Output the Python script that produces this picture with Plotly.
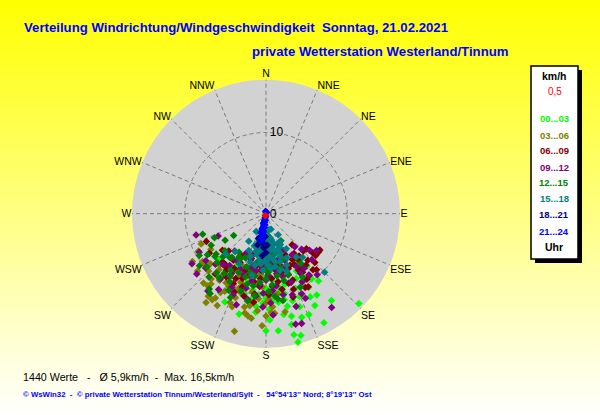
import plotly.graph_objects as go

# ---------------- data ----------------
compass_labels = ["N", "NNE", "NE", "ENE", "E", "ESE", "SE", "SSE",
                  "S", "SSW", "SW", "WSW", "W", "WNW", "NW", "NNW"]
compass_angles = [0, 22.5, 45, 67.5, 90, 112.5, 135, 157.5,
                  180, 202.5, 225, 247.5, 270, 292.5, 315, 337.5]
radial_ticks = [0, 10]
radial_max = 16.5

hour_labels = ["00...03", "03...06", "06...09", "09...12",
               "12...15", "15...18", "18...21", "21...24"]
hour_colors = ["#00ff00", "#808000", "#800000", "#800080",
               "#008000", "#008080", "#000080", "#0000ff"]

dir_00_03 = [195, 186, 180, 178, 174, 166, 167, 167, 164, 166, 161, 157, 152, 152, 152, 143, 134, 167, 167, 159,
             226, 175, 170, 165, 160, 155, 180, 185, 172, 178, 190, 195, 168, 158, 150, 162, 145, 183, 176, 188,
             200, 170, 205, 210, 142, 148, 180, 160,
             165, 170, 175, 180, 160, 155, 150, 185, 190, 172, 178, 168, 163, 158, 182, 148, 195, 152, 174, 186,
             166, 142, 188, 170, 176]
spd_00_03 = [12.8, 12.2, 14.4, 13.1, 14.5, 13.0, 14.0, 15.3, 15.6, 16.3, 13.5, 13.5, 11.6, 12.8, 15.2, 13.4, 15.9, 10.1, 11.7, 9.9,
             8.2, 7.0, 8.5, 9.0, 7.8, 8.8, 9.2, 10.0, 11.0, 11.8, 10.8, 8.8, 6.0, 11.0, 10.5, 5.2, 9.8, 7.8, 9.9, 7.2,
             9.8, 12.6, 12.0, 7.5, 8.2, 11.8, 6.2, 12.2,
             7.2, 9.8, 8.2, 10.4, 9.0, 10.0, 9.2, 8.5, 9.5, 6.8, 7.5, 10.8, 11.2, 7.0, 11.0, 7.0, 10.2, 8.0, 5.8, 11.5,
             7.8, 10.5, 8.8, 9.2, 10.8]

dir_03_06 = [241, 233, 219, 208, 195, 182, 177, 175, 169, 193, 211, 237, 237, 222, 215, 190, 207, 200, 195, 210,
             220, 225, 205, 190, 185, 200, 215, 228, 185, 195, 210, 180, 172, 200, 188, 245, 230, 198, 183, 203,
             218, 192,
             205, 210, 215, 200, 195, 190, 220, 225, 185, 180, 198, 208, 218, 188, 178, 212, 202, 192, 230, 196,
             186, 206, 222, 176, 214]
spd_03_06 = [9.5, 9.8, 11.4, 12.8, 15.0, 13.8, 12.2, 12.3, 12.3, 11.8, 12.1, 10.8, 8.1, 11.5, 12.4, 12.8, 10.1, 9.0, 8.0, 8.2,
             9.0, 7.5, 7.0, 9.8, 10.5, 11.0, 10.0, 9.2, 7.5, 6.8, 11.2, 11.0, 10.0, 12.2, 13.0, 8.8, 11.0, 10.2, 9.0, 8.2,
             8.0, 7.2,
             10.5, 9.8, 9.2, 9.8, 10.5, 11.5, 10.5, 10.0, 12.0, 12.6, 9.2, 10.8, 11.0, 11.0, 10.5, 12.5, 11.8, 12.5, 9.8, 7.5,
             8.5, 7.8, 8.5, 11.5, 13.2]

dir_06_09 = [245, 131, 126, 138, 145, 150, 152, 152, 160, 151, 142, 145, 220, 202, 217, 230, 210, 200, 190, 185,
             175, 170, 165, 160, 155, 148, 140, 195, 205, 215, 225, 182, 168, 178, 188, 198, 135, 158, 173, 212,
             222, 162, 185, 130, 124, 235, 195, 150,
             140, 145, 150, 155, 160, 135, 130, 142, 148, 165, 170, 175, 180, 185, 190, 195, 200, 205, 210, 215,
             220, 188, 172, 158, 146, 138, 198, 208, 178, 162]
spd_06_09 = [8.1, 6.6, 8.0, 7.7, 9.3, 10.4, 9.5, 10.3, 9.9, 7.2, 6.6, 6.0, 9.7, 10.4, 8.2, 7.0, 6.0, 7.5, 8.5, 9.0,
             8.0, 7.0, 6.5, 8.0, 5.5, 8.5, 9.0, 6.5, 8.8, 7.0, 6.5, 6.0, 9.5, 10.0, 11.0, 9.5, 8.5, 7.3, 5.5, 9.2,
             8.0, 10.8, 7.0, 8.0, 8.0, 8.5, 10.5, 6.5,
             5.0, 7.0, 8.0, 7.0, 6.0, 6.5, 7.5, 8.0, 9.5, 7.5, 8.5, 9.0, 7.0, 8.0, 6.5, 7.8, 8.5, 9.5, 7.8, 8.5,
             8.0, 10.0, 6.2, 8.8, 7.8, 9.3, 5.8, 6.8, 5.0, 9.0]

dir_09_12 = [253, 229, 126, 145, 162, 165, 198, 245, 232, 217, 139, 145, 156, 210, 200, 190, 180, 172, 165, 158,
             150, 185, 195, 205, 215, 225, 175, 168, 188, 178, 160, 135, 220, 240, 207, 192, 182, 170, 155, 148,
             130, 198, 212, 236, 176, 162,
             150, 160, 170, 180, 190, 200, 210, 220, 165, 175, 185, 195, 205, 215, 145, 155, 135, 140, 228, 182,
             172, 162, 192, 202, 212, 152, 187, 177, 167, 197]
spd_09_12 = [9.0, 11.3, 7.7, 14.1, 14.2, 14.1, 11.8, 6.5, 9.4, 11.9, 5.4, 8.2, 10.8, 8.5, 7.0, 6.2, 5.5, 6.8, 8.0, 6.2,
             7.5, 8.8, 9.5, 10.0, 7.8, 8.8, 9.5, 10.2, 4.8, 7.6, 9.0, 8.0, 6.0, 9.5, 5.5, 10.8, 11.5, 4.8, 11.5, 6.0,
             7.0, 6.0, 11.0, 11.0, 12.5, 12.0,
             8.5, 7.0, 7.5, 8.2, 7.2, 8.0, 9.0, 8.2, 5.8, 6.0, 6.5, 7.0, 7.5, 9.8, 9.2, 5.0, 6.2, 9.8, 10.0, 9.8,
             9.0, 10.5, 8.5, 10.8, 6.8, 9.5, 10.2, 11.0, 7.2, 5.2]

dir_12_15 = [252, 237, 236, 238, 232, 215, 203, 151, 231, 216, 217, 169, 172, 225, 220, 210, 205, 215, 228, 240,
             200, 195, 190, 180, 175, 160, 165, 150, 185, 245, 222, 208, 198, 178, 145, 235, 212, 190, 170, 155,
             200, 205, 210, 215, 220, 225, 195, 190, 185, 180, 170, 175, 230, 212, 198, 188, 178, 165, 160, 218,
             228, 206, 192, 183, 174]
spd_12_15 = [8.2, 6.0, 4.8, 9.7, 10.4, 12.0, 11.2, 3.8, 7.9, 9.8, 11.6, 10.9, 10.6, 8.5, 7.0, 6.5, 8.0, 5.8, 6.8, 7.8,
             5.5, 7.5, 9.0, 8.0, 6.5, 6.0, 8.5, 9.0, 5.0, 7.0, 10.5, 9.5, 10.0, 9.6, 7.5, 8.8, 8.2, 6.0, 5.2, 10.0,
             7.0, 6.0, 8.8, 9.0, 9.5, 7.5, 9.0, 7.8, 8.5, 6.8, 7.8, 8.8, 8.2, 6.2, 8.2, 10.2, 7.2, 7.0, 8.0, 6.8,
             9.8, 10.5, 11.0, 5.8, 10.2]

dir_15_18 = [162, 209, 153, 169, 135, 175, 180, 185, 170, 165, 190, 178, 172, 160, 195, 200, 183, 176, 168, 188,
             158, 150, 205, 180, 174, 186, 192, 164, 155, 198, 181, 170, 177, 212, 145, 183, 166, 219, 150, 188,
             208, 175, 160, 193, 140, 225,
             178, 172, 168, 185, 190, 180, 175, 165, 160, 195, 170, 182, 188, 176, 162, 200, 155, 192, 178, 170,
             186, 166, 180, 174, 158]
spd_15_18 = [2.0, 2.5, 3.8, 2.0, 10.2, 3.0, 3.5, 4.0, 4.2, 4.8, 4.5, 5.0, 5.5, 5.2, 3.6, 4.2, 2.8, 3.9, 3.3, 5.8,
             4.5, 5.0, 5.0, 6.0, 4.6, 3.2, 5.2, 6.2, 6.0, 6.3, 4.4, 5.9, 2.6, 4.0, 6.5, 7.0, 7.2, 6.0, 3.0, 2.2,
             7.0, 6.8, 7.5, 7.8, 7.0, 7.0,
             3.2, 3.8, 4.5, 4.5, 3.8, 4.2, 3.6, 3.8, 4.0, 4.8, 3.0, 5.5, 5.0, 5.5, 5.6, 5.6, 4.2, 6.5, 6.3, 6.6,
             6.2, 5.0, 2.4, 2.8, 6.8]

dir_18_21 = [186, 190, 184, 192, 188, 195, 182, 180, 197, 185, 178, 189]
spd_18_21 = [3.7, 3.0, 4.2, 2.5, 3.4, 4.0, 2.8, 4.8, 3.2, 5.2, 3.9, 2.2]

dir_21_24 = [188, 190, 192, 191, 189, 193, 190, 187, 194, 191, 189, 192, 190, 188, 195, 191, 193, 186, 190, 192,
             196, 189, 350, 20, 190, 185, 191, 189]
spd_21_24 = [0.3, 0.5, 0.7, 0.9, 1.1, 1.3, 1.5, 1.7, 1.9, 2.1, 2.3, 2.5, 2.7, 2.9, 1.2, 1.6, 2.0, 0.8, 1.0, 1.8,
             2.4, 2.8, 0.3, 0.2, 3.1, 1.4, 3.3, 3.4]

calm_label = "0,5"
calm_dir = [200]
calm_spd = [0.25]

title_1 = "Verteilung Windrichtung/Windgeschwindigkeit\u00a0\u00a0Sonntag, 21.02.2021"
title_2 = "private Wetterstation Westerland/Tinnum"
stats_text = "1440 Werte\u00a0\u00a0\u00a0-\u00a0\u00a0\u00a0Ø 5,9km/h\u00a0\u00a0-\u00a0\u00a0Max. 16,5km/h"
copyright_text = ("© WsWin32\u00a0\u00a0-\u00a0\u00a0© private Wetterstation Tinnum/Westerland/Sylt"
                  "\u00a0\u00a0-\u00a0\u00a0\u00a054°54'13'' Nord; 8°19'13'' Ost")

groups = [
    (hour_labels[0], hour_colors[0], dir_00_03, spd_00_03),
    (hour_labels[1], hour_colors[1], dir_03_06, spd_03_06),
    (hour_labels[2], hour_colors[2], dir_06_09, spd_06_09),
    (hour_labels[3], hour_colors[3], dir_09_12, spd_09_12),
    (hour_labels[4], hour_colors[4], dir_12_15, spd_12_15),
    (hour_labels[5], hour_colors[5], dir_15_18, spd_15_18),
    (hour_labels[6], hour_colors[6], dir_18_21, spd_18_21),
    (hour_labels[7], hour_colors[7], dir_21_24, spd_21_24),
    (calm_label, "#ff0000", calm_dir, calm_spd),
]

# ---------------- figure ----------------
W, H = 600, 415
FONT = "Arial, Liberation Sans, Helvetica, sans-serif"


def px(x):
    return x / W


def py(y):
    return 1 - y / H


fig = go.Figure()
for name, color, dirs, spds in groups:
    fig.add_trace(go.Scatterpolar(
        theta=dirs, r=spds, mode="markers", name=name,
        marker=dict(symbol="diamond", size=5.8, color=color, line=dict(width=0)),
        hoverinfo="skip", showlegend=False,
    ))

shapes = []
# yellow -> white vertical gradient background
n_bands = 83
for i in range(n_bands):
    t = (i + 0.5) / n_bands
    b = int(round(255 * t))
    shapes.append(dict(type="rect", xref="paper", yref="paper",
                       x0=0, x1=1, y0=1 - i / n_bands, y1=1 - (i + 1) / n_bands - 0.002,
                       fillcolor=f"rgb(255,255,{b})", line=dict(width=0), layer="below"))
# legend box with shadow
shapes.append(dict(type="rect", xref="paper", yref="paper",
                   x0=px(535), x1=px(582), y0=py(70), y1=py(263),
                   fillcolor="black", line=dict(width=0)))
shapes.append(dict(type="rect", xref="paper", yref="paper",
                   x0=px(531), x1=px(578), y0=py(66), y1=py(259),
                   fillcolor="white", line=dict(color="black", width=1.5)))

annotations = [
    dict(text=f"<b>{title_1}</b>", x=px(22), y=py(27), xanchor="left", yanchor="middle",
         font=dict(family=FONT, size=13.2, color="#0000ff")),
    dict(text=f"<b>{title_2}</b>", x=px(250), y=py(51), xanchor="left", yanchor="middle",
         font=dict(family=FONT, size=13.2, color="#0000ff")),
    dict(text=stats_text, x=px(21), y=py(377), xanchor="left", yanchor="middle",
         font=dict(family=FONT, size=10.7, color="black")),
    dict(text=f"<b>{copyright_text}</b>", x=px(21), y=py(394), xanchor="left", yanchor="middle",
         font=dict(family=FONT, size=7.8, color="#0000ff")),
    dict(text="<b>km/h</b>", x=px(554), y=py(76), xanchor="center", yanchor="middle",
         font=dict(family=FONT, size=10.5, color="black")),
    dict(text=calm_label, x=px(555), y=py(92), xanchor="center", yanchor="middle",
         font=dict(family=FONT, size=10, color="#ff0000")),
    dict(text="<b>Uhr</b>", x=px(554), y=py(247), xanchor="center", yanchor="middle",
         font=dict(family=FONT, size=10.5, color="black")),
]
legend_y = [119, 135, 150, 167, 182, 198, 214, 231]
for lab, col, yy in zip(hour_labels, hour_colors, legend_y):
    annotations.append(dict(text=f"<b>{lab}</b>", x=px(554), y=py(yy), xanchor="center", yanchor="middle",
                            font=dict(family=FONT, size=9.5, color=col)))
for a in annotations:
    a.update(xref="paper", yref="paper", showarrow=False)

cx, cy, R = 266, 213.7, 134
fig.update_layout(
    width=W, height=H, margin=dict(l=0, r=0, t=0, b=0, pad=0),
    paper_bgcolor="#ffff80", plot_bgcolor="rgba(0,0,0,0)",
    showlegend=False, shapes=shapes, annotations=annotations,
    polar=dict(
        domain=dict(x=[px(cx - R), px(cx + R)], y=[py(cy + R), py(cy - R)]),
        bgcolor="#d2d2d2",
        angularaxis=dict(direction="clockwise", rotation=90, tickmode="array",
                         tickvals=compass_angles, ticktext=compass_labels,
                         showline=False, ticks="", gridcolor="#7a7a7a", gridwidth=1,
                         griddash="4px,3px",
                         tickfont=dict(family=FONT, size=10.5, color="black")),
        radialaxis=dict(range=[0, radial_max], tickmode="array", tickvals=radial_ticks,
                        ticktext=["\u00a0" + str(v) for v in radial_ticks],
                        angle=90, tickangle=90,
                        showline=False, ticks="", gridcolor="#7a7a7a", gridwidth=1,
                        griddash="4px,3px",
                        tickfont=dict(family=FONT, size=12, color="black")),
    ),
)

fig.write_html("out.html", config={"displayModeBar": False},
               post_script="document.body.style.margin='0';document.body.style.overflow='hidden';")
